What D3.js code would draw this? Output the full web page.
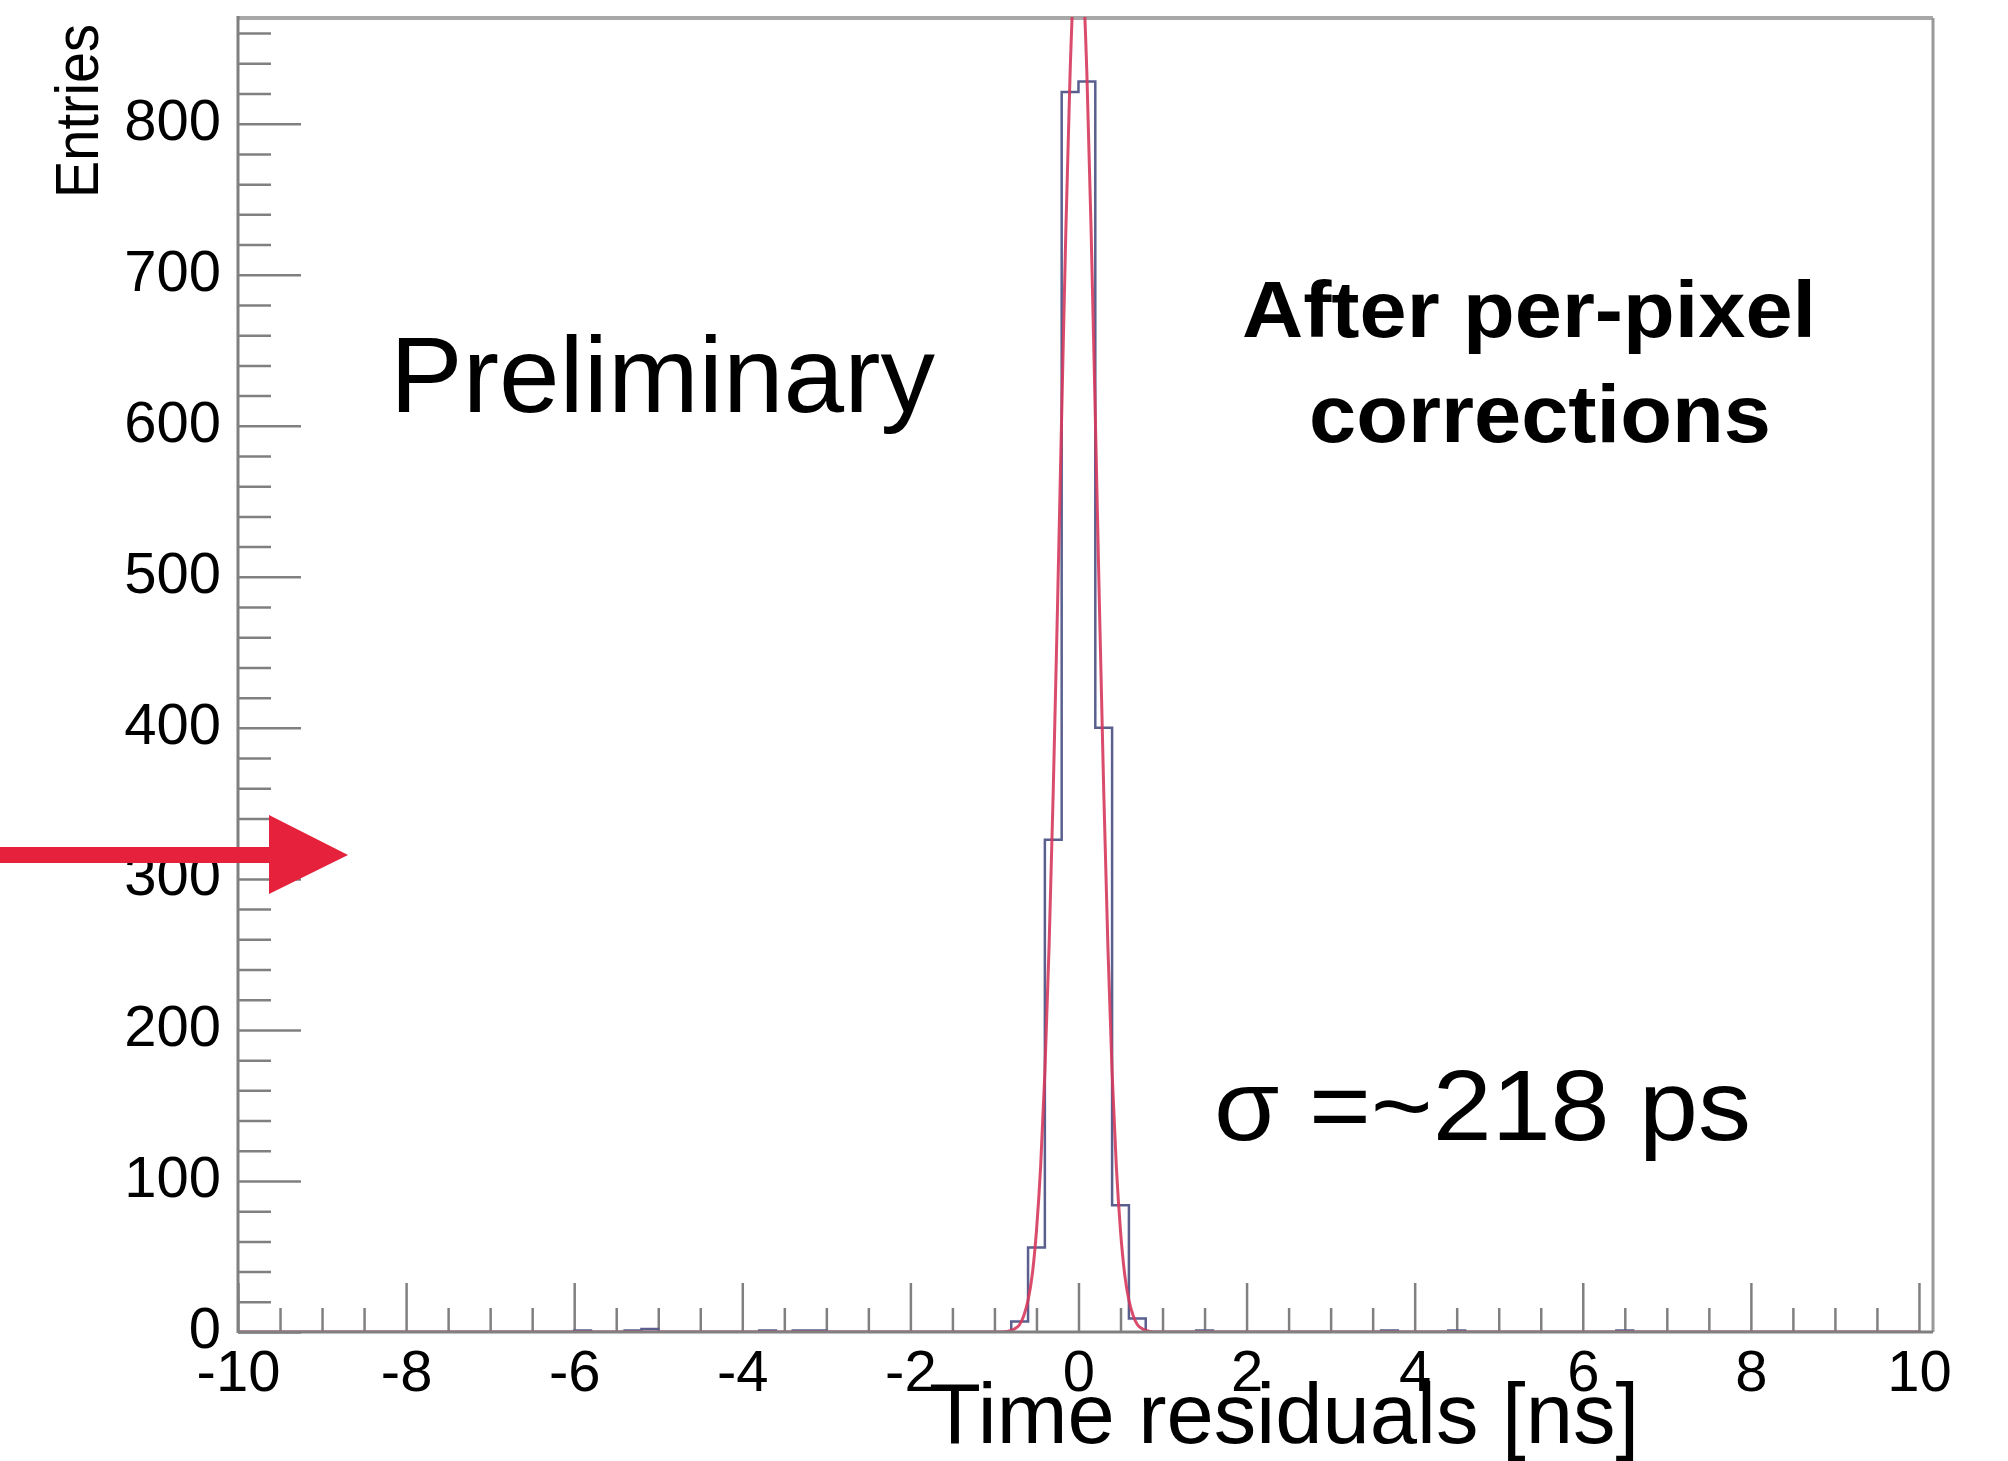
<!DOCTYPE html>
<html>
<head>
<meta charset="utf-8">
<script src="https://cdn.jsdelivr.net/npm/d3@7"></script>
<style>
  html, body { margin: 0; padding: 0; background: #ffffff; }
  svg { display: block; }
  text { font-family: "Liberation Sans", Arial, Helvetica, sans-serif; fill: #000; }
</style>
</head>
<body>
<script>
// ---------------- data ----------------
const binWidth = 0.2;            // ns
const histMin = -10, histMax = 10;
const peakBinStarts = [-0.8, -0.6, -0.4, -0.2, 0.0, 0.2, 0.4, 0.6];
const peakCounts    = [7, 56, 326, 821, 828, 400, 84, 9];
const tailBinStarts = [-6.0, -5.4, -5.2, -3.8, -3.4, -3.2, 1.4, 3.6, 4.4, 6.4];
const tailCounts    = [1, 1, 2, 1, 1, 1, 1, 1, 1, 1];

const fitX = [-10, -0.9, -0.8, -0.75, -0.7, -0.65, -0.6, -0.55, -0.5, -0.45, -0.4, -0.35, -0.3, -0.25, -0.2, -0.15, -0.1, -0.05, 0,
              0.05, 0.1, 0.15, 0.2, 0.25, 0.3, 0.35, 0.4, 0.45, 0.5, 0.55, 0.6, 0.65, 0.7, 0.75, 0.8, 0.9, 10];
const fitY = [0, 0, 1, 2.5, 5, 11, 21, 38, 67, 110, 172, 255, 359, 479, 607, 730, 833, 901, 925,
              901, 833, 730, 607, 479, 359, 255, 172, 110, 67, 38, 21, 11, 5, 2.5, 1, 0, 0];

const xTickValues = [-10, -8, -6, -4, -2, 0, 2, 4, 6, 8, 10];
const xTickLabels = ["-10", "-8", "-6", "-4", "-2", "0", "2", "4", "6", "8", "10"];
const yTickValues = [0, 100, 200, 300, 400, 500, 600, 700, 800];
const yTickLabels = ["0", "100", "200", "300", "400", "500", "600", "700", "800"];

const yLabel = "Entries";
const xLabel = "Time residuals [ns]";
const textPrelim = "Preliminary";
const textCorr1 = "After per-pixel";
const textCorr2 = "corrections";
const textSigma = "\u03C3 =~218 ps";

// ---------------- layout ----------------
const W = 2008, H = 1461;
const pLeft = 238, pRight = 1933, pTop = 18, pBottom = 1332;

const svg = d3.select("body").append("svg")
  .attr("width", W).attr("height", H)
  .attr("viewBox", `0 0 ${W} ${H}`);
svg.append("rect").attr("width", W).attr("height", H).attr("fill", "#fff");

const x = d3.scaleLinear().domain([-10, 10.167]).range([pLeft, pRight]);
const y = d3.scaleLinear().domain([0, 870]).range([pBottom, pTop]);

svg.append("defs").append("clipPath").attr("id", "plotclip")
  .append("rect").attr("x", pLeft).attr("y", pTop - 1)
  .attr("width", pRight - pLeft).attr("height", pBottom - pTop + 1);

// frame (top and right)
svg.append("line").attr("x1", pLeft).attr("x2", pRight).attr("y1", pTop).attr("y2", pTop)
  .attr("stroke", "#a8a8a8").attr("stroke-width", 4);
svg.append("line").attr("x1", pRight).attr("x2", pRight).attr("y1", pTop).attr("y2", pBottom)
  .attr("stroke", "#9a9a9a").attr("stroke-width", 3);

// ---------------- axes ----------------
const axisColor = "#808080";
const fontFam = '"Liberation Sans", Arial, sans-serif';

// y minor ticks
const yMinor = d3.range(0, 870, 20).filter(v => v % 100 !== 0);
svg.append("g").attr("transform", `translate(${pLeft},0)`)
  .call(d3.axisLeft(y).tickValues(yMinor).tickSizeInner(-33).tickSizeOuter(0).tickFormat(""))
  .call(g => g.select(".domain").remove())
  .call(g => g.selectAll(".tick line").attr("stroke", axisColor).attr("stroke-width", 2.5));

// y major
svg.append("g").attr("transform", `translate(${pLeft},0)`)
  .call(d3.axisLeft(y).tickValues(yTickValues).tickSizeInner(-63).tickSizeOuter(0).tickPadding(17)
        .tickFormat((d, i) => yTickLabels[i]))
  .call(g => g.select(".domain").remove())
  .call(g => g.selectAll(".tick line").attr("stroke", axisColor).attr("stroke-width", 2.5))
  .call(g => g.selectAll(".tick text").attr("font-size", 58).attr("fill", "#111")
      .attr("dy", "0.27em").style("font-family", fontFam));

// x minor ticks
const xMinor = d3.range(-10, 10.01, 0.5).filter(v => Math.abs(v % 2) > 1e-9);
svg.append("g").attr("transform", `translate(0,${pBottom})`)
  .call(d3.axisBottom(x).tickValues(xMinor).tickSizeInner(-24).tickSizeOuter(0).tickFormat(""))
  .call(g => g.select(".domain").remove())
  .call(g => g.selectAll(".tick line").attr("stroke", axisColor).attr("stroke-width", 2.5));

// x major
svg.append("g").attr("transform", `translate(0,${pBottom})`)
  .call(d3.axisBottom(x).tickValues(xTickValues).tickSizeInner(-49).tickSizeOuter(0).tickPadding(18)
        .tickFormat((d, i) => xTickLabels[i]))
  .call(g => g.select(".domain").remove())
  .call(g => g.selectAll(".tick line").attr("stroke", axisColor).attr("stroke-width", 2.5))
  .call(g => g.selectAll(".tick text").attr("font-size", 58).attr("fill", "#111")
      .style("font-family", fontFam));

// ---------------- histogram ----------------
const nBins = Math.round((histMax - histMin) / binWidth);
const counts = new Array(nBins).fill(0);
peakBinStarts.forEach((s, i) => { counts[Math.round((s - histMin) / binWidth)] = peakCounts[i]; });
tailBinStarts.forEach((s, i) => { counts[Math.round((s - histMin) / binWidth)] = tailCounts[i]; });

const histPts = counts.map((c, i) => [histMin + i * binWidth, c]);
histPts.push([histMax, counts[nBins - 1]]);

const plot = svg.append("g").attr("clip-path", "url(#plotclip)");

plot.append("path")
  .attr("d", d3.line().x(d => x(d[0])).y(d => y(d[1])).curve(d3.curveStepAfter)(histPts))
  .attr("fill", "none").attr("stroke", "#5a5f8e").attr("stroke-width", 2.5);

// fit curve
const fitPts = fitX.map((v, i) => [v, fitY[i]]);
plot.append("path")
  .attr("d", d3.line().x(d => x(d[0])).y(d => y(d[1])).curve(d3.curveMonotoneX)(fitPts))
  .attr("fill", "none").attr("stroke", "#d6395c").attr("stroke-width", 3).attr("stroke-opacity", 0.9);

// axis lines (on top)
svg.append("line").attr("x1", pLeft).attr("x2", pLeft).attr("y1", pTop - 2).attr("y2", pBottom + 1)
  .attr("stroke", axisColor).attr("stroke-width", 3);
svg.append("line").attr("x1", pLeft).attr("x2", pRight).attr("y1", pBottom).attr("y2", pBottom)
  .attr("stroke", axisColor).attr("stroke-width", 3);

// ---------------- texts ----------------
svg.append("text").attr("transform", "translate(98,198) rotate(-90)")
  .attr("font-size", 62).attr("textLength", 174).attr("lengthAdjust", "spacingAndGlyphs")
  .attr("fill", "#111").text(yLabel);

svg.append("text").attr("x", 929).attr("y", 1443).attr("font-size", 85)
  .attr("textLength", 710).attr("lengthAdjust", "spacingAndGlyphs").text(xLabel);

svg.append("text").attr("x", 390).attr("y", 412).attr("font-size", 108)
  .attr("textLength", 545).attr("lengthAdjust", "spacingAndGlyphs").attr("fill", "#111").text(textPrelim);

svg.append("text").attr("x", 1242).attr("y", 337).attr("font-size", 80).attr("font-weight", "bold")
  .attr("textLength", 574).attr("lengthAdjust", "spacingAndGlyphs").text(textCorr1);
svg.append("text").attr("x", 1309).attr("y", 442).attr("font-size", 82).attr("font-weight", "bold")
  .attr("textLength", 462).attr("lengthAdjust", "spacingAndGlyphs").text(textCorr2);

svg.append("text").attr("x", 1214).attr("y", 1140).attr("font-size", 100)
  .attr("textLength", 537).attr("lengthAdjust", "spacingAndGlyphs").text(textSigma);

// ---------------- red arrow ----------------
const arrowColor = "#e5213b";
svg.append("rect").attr("x", 0).attr("y", 847).attr("width", 272).attr("height", 16).attr("fill", arrowColor);
svg.append("path").attr("d", "M269,815 L348,855 L269,894 Z").attr("fill", arrowColor);
</script>
</body>
</html>
